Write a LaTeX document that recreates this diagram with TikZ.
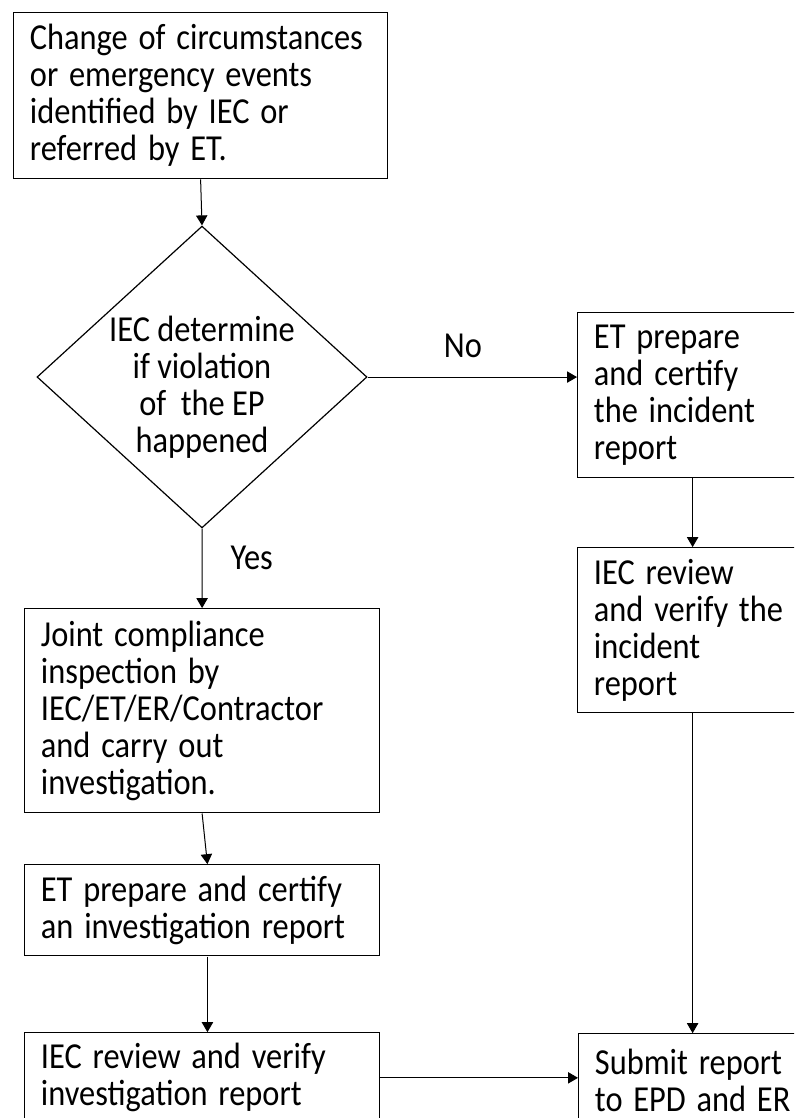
\documentclass[tikz,border=0pt]{standalone}
\usepackage{fontspec}
\setmainfont{Carlito}
\usetikzlibrary{shapes.geometric,arrows.meta}
\tikzset{
  stepbox/.style={draw, line width=0.9pt, anchor=north west, align=left,
    inner xsep=12.25pt, inner ysep=0pt, font=\fontsize{24.3}{24.56}\selectfont},
  decide/.style={diamond, draw, line width=0.9pt, aspect=1.09,
    minimum width=247.5pt, minimum height=200.4pt, inner sep=-20pt,
    font=\fontsize{24.3}{24.56}\selectfont},
  lbl/.style={inner sep=0pt, font=\fontsize{24.3}{24.56}\selectfont},
  flow/.style={-{Triangle[width=8.5pt,length=7.5pt]}, line width=0.75pt}
}
\begin{document}
\begin{tikzpicture}[x=0.75pt, y=-0.6637pt, yscale=1.13, transform shape]
\useasboundingbox (0,0) rectangle (794,1118); % page
\clip (0,0) rectangle (794,1118); % boxes at the edges are cut off
% left column
\node[stepbox, text width=256pt, minimum height=110.2pt] (start) at (13,12) {Change of circumstances\\or emergency events\\identified by IEC or\\referred by ET.}; % first box
\node[decide] (check) at (202,377) {\raisebox{-8.3pt}[\height][\depth]{\begin{tabular}{@{}c@{}}IEC determine\\if violation\\of~ the EP\\happened\end{tabular}}}; % decision
\node[stepbox, text width=241.75pt, minimum height=135.4pt] (joint) at (24,608) {Joint compliance\\inspection by\\IEC/ET/ER/Contractor\\and carry out\\investigation.}; % yes branch
\node[stepbox, text width=241.75pt, minimum height=60.4pt] (invrep) at (24,864) {ET prepare and certify\\an investigation report}; % report
\node[stepbox, text width=241.75pt, minimum height=59.7pt] (invrev) at (24,1032) {IEC review and verify\\investigation report}; % review
% right column, cut off by the page edge
\node[stepbox, text width=163pt, minimum height=109.5pt] (incident) at (577,312) {ET prepare\\and certify\\the incident\\report}; % no branch
\node[stepbox, text width=163pt, minimum height=109.5pt] (increv) at (577,547) {IEC review\\and verify the\\incident\\report}; % review
\node[stepbox, text width=163pt, minimum height=62.4pt] (submit) at (578,1033) {Submit report\\to EPD and ER}; % last box
% arrows
\draw[flow] (start.south) -- (check.north);
\draw[flow] (check.south) -- (joint.north) node[pos=0.37, right=21pt, lbl] (yes) {Yes};
\draw[flow] (check.east) -- (check.east -| incident.west) node[midway, above=12.4pt, xshift=-7pt, lbl] (no) {No};
\draw[flow] (joint.south) -- ([xshift=4pt]invrep.north);
\draw[flow] ([xshift=4pt]invrep.south) -- ([xshift=4pt]invrev.north);
\draw[flow] ([xshift=-7.5pt]incident.south) -- ([xshift=-7.5pt]increv.north);
\draw[flow] ([xshift=-7.5pt]increv.south) -- ([xshift=-8.25pt]submit.north);
\draw[flow] (invrev.east) -- (invrev.east -| submit.west);
\end{tikzpicture}
\end{document}
